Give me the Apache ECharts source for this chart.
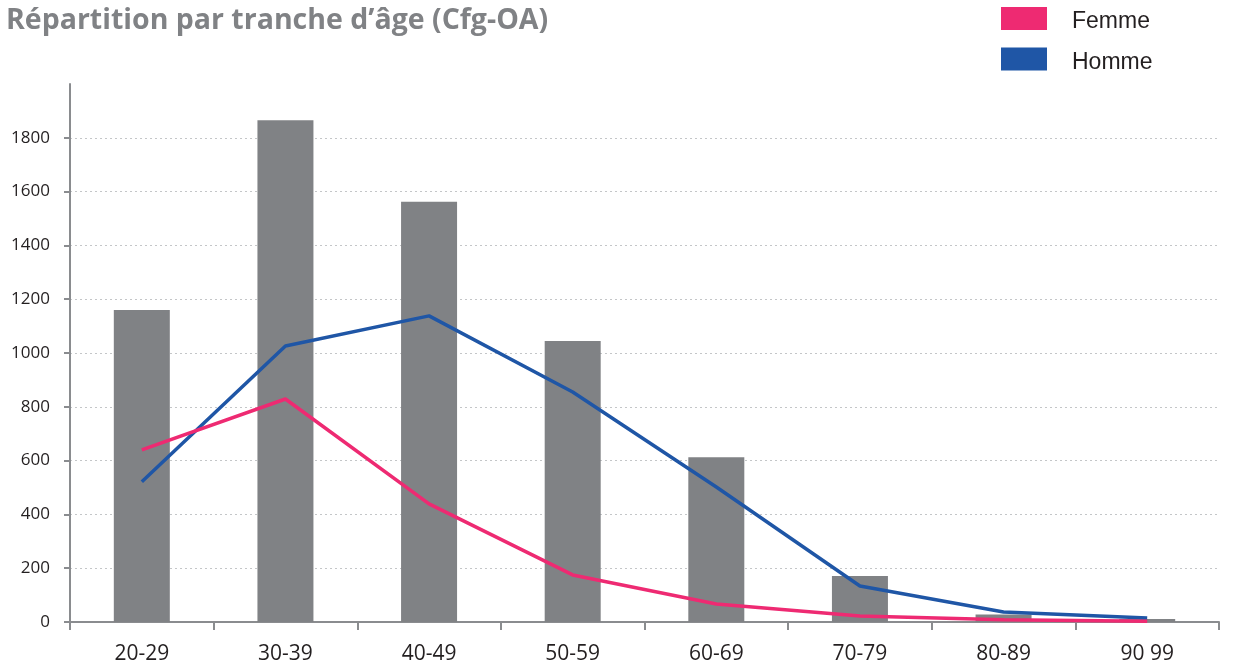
<!DOCTYPE html>
<html>
<head>
<meta charset="utf-8">
<script src="https://cdn.jsdelivr.net/npm/echarts@6/dist/echarts.min.js"></script>
<style>
  html, body { margin: 0; padding: 0; background: #ffffff; }
  #chart { width: 1242px; height: 669px; }
</style>
</head>
<body>
<div id="chart"></div>
<script>
// Age brackets and counts per bracket
const categories = ['20-29', '30-39', '40-49', '50-59', '60-69', '70-79', '80-89', '90 99'];
const totals = [1160, 1865, 1562, 1045, 612, 171, 28, 11];
const femme = [640, 829, 439, 175, 67, 22, 8, 3];
const homme = [521, 1026, 1138, 855, 502, 134, 37, 15];

const AXIS_GREY = '#8a8c8f';
const TEXT_DARK = '#231f20';

const chart = echarts.init(document.getElementById('chart'), null, { renderer: 'canvas' });

chart.setOption({
  animation: false,
  backgroundColor: '#ffffff',
  title: {
    text: 'Répartition par tranche d’âge (Cfg-OA)',
    left: 6,
    top: 6,
    padding: 0,
    textStyle: {
      fontFamily: 'Open Sans',
      fontWeight: 'bold',
      fontSize: 28.5,
      color: '#808285'
    }
  },
  legend: {
    orient: 'vertical',
    left: 1001,
    top: 7,
    padding: 0,
    itemWidth: 46,
    itemHeight: 23,
    itemGap: 14,
    icon: 'rect',
    data: ['Femme', 'Homme'],
    formatter: (name) => '{t|' + name + '}',
    textStyle: {
      fontFamily: 'Liberation Sans',
      fontSize: 23,
      color: TEXT_DARK,
      padding: [0, 0, 0, 20],
      rich: {
        t: {
          fontFamily: 'Liberation Sans',
          fontSize: 23,
          color: TEXT_DARK,
          padding: [7, 0, 0, 0]
        }
      }
    }
  },
  grid: {
    left: 70,
    right: 23,
    top: 84,
    bottom: 47,
    containLabel: false
  },
  xAxis: {
    type: 'category',
    data: categories,
    boundaryGap: true,
    axisLine: { show: true, lineStyle: { color: AXIS_GREY, width: 2 } },
    axisTick: { show: true, length: 8, lineStyle: { color: AXIS_GREY, width: 2 } },
    axisLabel: {
      fontFamily: 'Open Sans',
      fontSize: 21,
      color: TEXT_DARK,
      margin: 22
    }
  },
  yAxis: {
    type: 'value',
    min: 0,
    max: 2000,
    interval: 200,
    axisLine: { show: true, lineStyle: { color: AXIS_GREY, width: 2 } },
    axisTick: { show: true, length: 6, lineStyle: { color: AXIS_GREY, width: 2 } },
    axisLabel: {
      fontFamily: 'Open Sans',
      fontSize: 17,
      color: TEXT_DARK,
      margin: 20,
      showMaxLabel: false,
      formatter: (v) => String(v)
    },
    splitLine: {
      show: true,
      showMaxLine: false,
      lineStyle: { color: '#c4c6c8', type: [2, 3], width: 1 }
    }
  },
  series: [
    {
      name: 'Total',
      type: 'bar',
      data: totals,
      barWidth: 56,
      itemStyle: { color: '#808285' }
    },
    {
      name: 'Homme',
      type: 'line',
      data: homme,
      symbol: 'none',
      lineStyle: { color: '#1f56a6', width: 3.5 },
      itemStyle: { color: '#1f56a6' }
    },
    {
      name: 'Femme',
      type: 'line',
      data: femme,
      symbol: 'none',
      lineStyle: { color: '#ee2a72', width: 3.5 },
      itemStyle: { color: '#ee2a72' }
    }
  ]
});
</script>
</body>
</html>
